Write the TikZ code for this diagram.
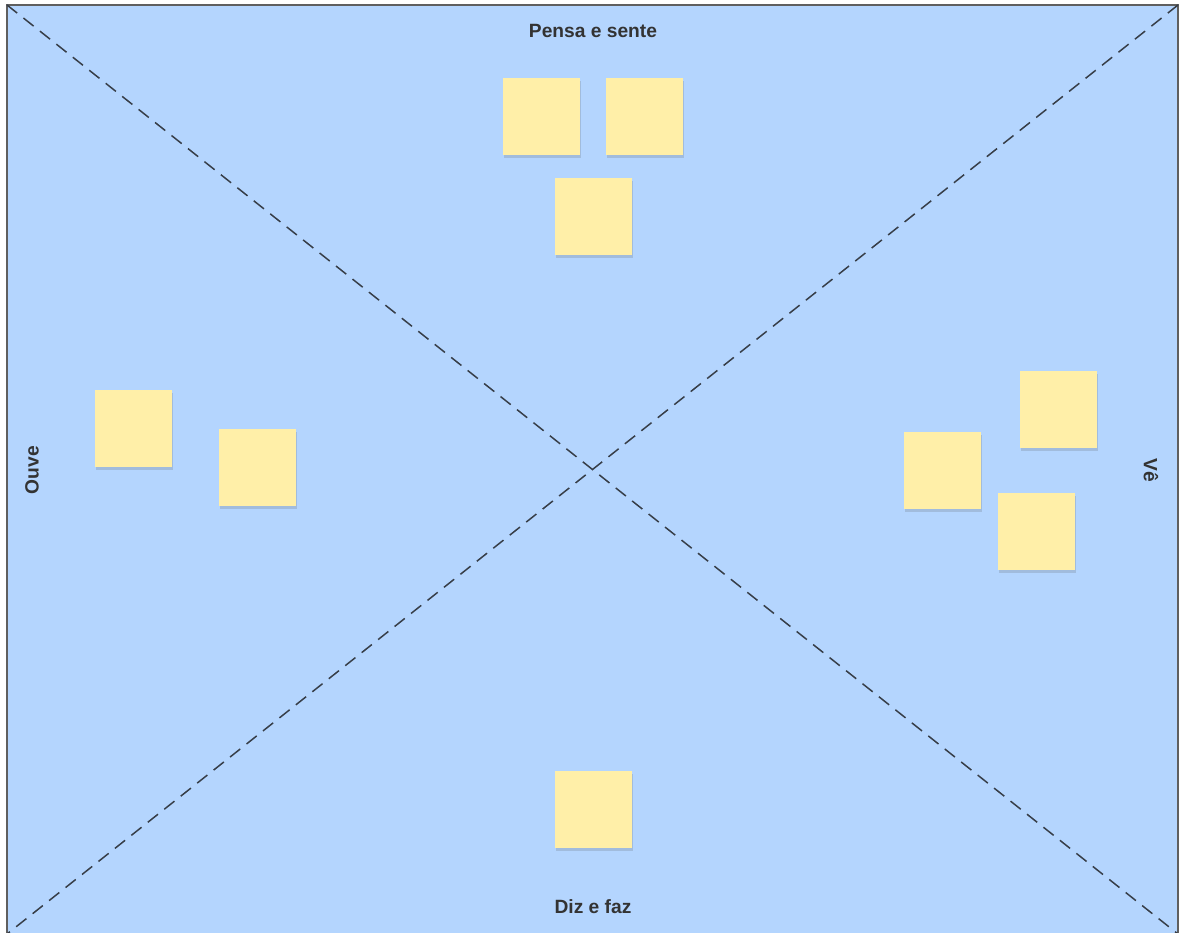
\documentclass[tikz,border=0pt]{standalone}
\usepackage{fontspec}
\setmainfont{Liberation Sans}
\usetikzlibrary{shadows}
\definecolor{bgblue}{RGB}{180,213,254}
\definecolor{framegray}{RGB}{95,95,95}
\definecolor{dashgray}{RGB}{55,62,72}
\definecolor{sticky}{RGB}{255,239,168}
\definecolor{labelgray}{RGB}{51,51,51}
\tikzset{
  stickynote/.style={draw=none, fill=sticky, minimum width=77pt, minimum height=77pt, inner sep=0pt,
    drop shadow={shadow xshift=0.5pt, shadow yshift=-3pt, opacity=0.18, fill=black!70}},
  diag/.style={draw=dashgray, line width=1.5pt, dash pattern=on 13pt off 8pt},
  quadlabel/.style={font=\bfseries\fontsize{19.2}{21}\selectfont, text=labelgray, inner sep=0pt}
}
\begin{document}
\begin{tikzpicture}[x=1pt,y=-1pt]
\useasboundingbox (0,0) rectangle (1180,932);
\clip (0,0) rectangle (1180,932);
\coordinate (TL) at (7,5);
\coordinate (TR) at (1178,5);
\coordinate (BL) at (7,934);
\coordinate (BR) at (1178,934);
\draw[fill=bgblue, draw=framegray, line width=1.8pt] (TL) rectangle (BR);
\draw[diag] (TL) -- (BR);
\draw[diag] (TR) -- (BL);
% labels
\node[quadlabel] (pensa) at (593,31) {Pensa e sente};
\node[quadlabel] (diz) at (593,907) {Diz e faz};
\node[quadlabel, rotate=90] (ouve) at (32,470) {Ouve};
\node[quadlabel, rotate=-90] (ve) at (1151,470) {Vê};
% sticky notes
\node[stickynote] (s1) at (541.5,116.5) {};
\node[stickynote] (s2) at (644.5,116.5) {};
\node[stickynote] (s3) at (593.5,216.5) {};
\node[stickynote] (s4) at (133.5,428.5) {};
\node[stickynote] (s5) at (257.5,467.5) {};
\node[stickynote] (s6) at (1058.5,409.5) {};
\node[stickynote] (s7) at (942.5,470.5) {};
\node[stickynote] (s8) at (1036.5,531.5) {};
\node[stickynote] (s9) at (593.5,809.5) {};
\end{tikzpicture}
\end{document}
